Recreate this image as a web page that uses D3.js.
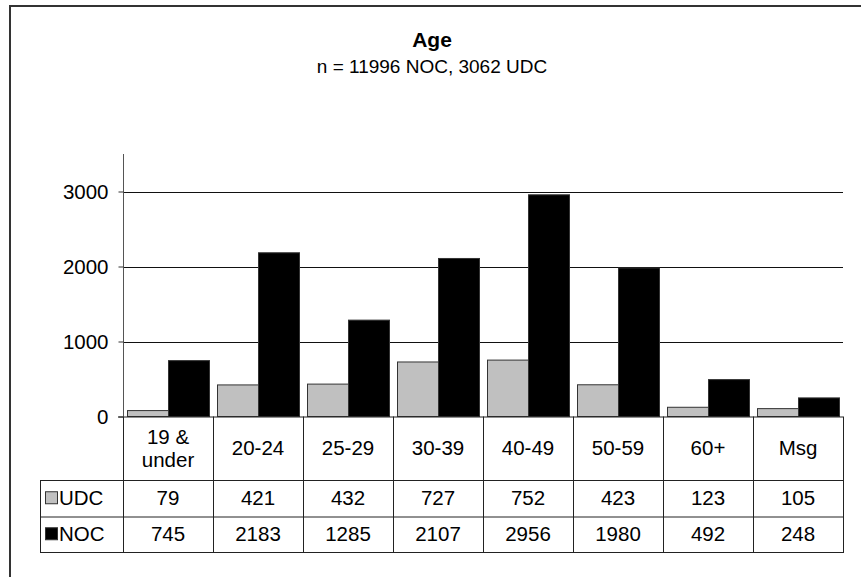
<!DOCTYPE html>
<html>
<head>
<meta charset="utf-8">
<script src="https://cdn.jsdelivr.net/npm/d3@7"></script>
<style>
html,body{margin:0;padding:0;background:#fff;}
svg{display:block;font-family:"Liberation Sans",Arial,sans-serif;}
</style>
</head>
<body>
<svg id="chart" width="861" height="577"></svg>
<script>
const categories = [["19 &","under"],["20-24"],["25-29"],["30-39"],["40-49"],["50-59"],["60+"],["Msg"]];
const seriesNames = ["UDC","NOC"];
const udcValues = [79,421,432,727,752,423,123,105];
const nocValues = [745,2183,1285,2107,2956,1980,492,248];
const yTicks = [0,1000,2000,3000];
const seriesColors = ["#c0c0c0","#000000"];
const title = "Age";
const subtitle = "n = 11996 NOC, 3062 UDC";

const svg = d3.select("#chart");
const catKeys = categories.map(c => c.join(" "));
const plot = {left:123, right:843, top:154, bottom:416.5};
const FS = 20.5;

// outer chart frame
svg.append("path")
  .attr("d","M10,580 L10,6 L870,6")
  .attr("fill","none").attr("stroke","#333").attr("stroke-width",2);

svg.append("text").attr("x",432).attr("y",47).attr("text-anchor","middle")
  .attr("font-size",21).attr("font-weight","bold").text(title);
svg.append("text").attr("x",432).attr("y",73).attr("text-anchor","middle")
  .attr("font-size",19).text(subtitle);

const x0 = d3.scaleBand().domain(catKeys).range([plot.left, plot.right]).padding(0);
const x1 = d3.scaleBand().domain(seriesNames).range([4.5, x0.bandwidth()-3.5]).padding(0);
const y = d3.scaleLinear().domain([0,3500]).range([plot.bottom, plot.top]);

// gridlines
svg.append("g").selectAll("line").data(yTicks.filter(t=>t>0)).join("line")
  .attr("x1",plot.left).attr("x2",plot.right)
  .attr("y1",d=>Math.round(y(d))+0.5).attr("y2",d=>Math.round(y(d))+0.5)
  .attr("stroke","#111").attr("stroke-width",1);

// bars
const series = [udcValues, nocValues];
const g = svg.append("g");
seriesNames.forEach((s,si)=>{
  g.append("g").selectAll("rect").data(series[si]).join("rect")
    .attr("x",(d,i)=>x0(catKeys[i])+x1(s))
    .attr("y",d=>y(d))
    .attr("width",x1.bandwidth())
    .attr("height",d=>plot.bottom-y(d))
    .attr("fill",seriesColors[si])
    .attr("stroke","#333").attr("stroke-width",1);
});

// y axis
const yAxis = d3.axisLeft(y).tickValues(yTicks).tickSize(5).tickPadding(10).tickFormat(d3.format("d"));
const ya = svg.append("g").attr("transform",`translate(${plot.left+0.5},0)`).call(yAxis);
ya.selectAll(".domain").attr("stroke","#555").attr("d",`M0,${plot.bottom}V${plot.top}`);
ya.selectAll(".tick line").attr("stroke","#333");
ya.selectAll(".tick text").attr("font-size",FS).attr("fill","#000").attr("font-family","Liberation Sans, Arial, sans-serif").attr("dy","0.35em");

// x axis baseline
svg.append("line").attr("x1",plot.left-5).attr("x2",plot.right)
  .attr("y1",plot.bottom+0.5).attr("y2",plot.bottom+0.5).attr("stroke","#222");

// data table
const tbl = {left:40, headerBottom:480, row1Bottom:516.5, row2Bottom:552};
const tg = svg.append("g").attr("stroke","#222").attr("stroke-width",1).attr("fill","none");
catKeys.forEach((k,i)=>{
  tg.append("line").attr("x1",x0(k)+0.5).attr("x2",x0(k)+0.5).attr("y1",plot.bottom).attr("y2",tbl.row2Bottom);
});
tg.append("line").attr("x1",plot.right+0.5).attr("x2",plot.right+0.5).attr("y1",plot.bottom).attr("y2",tbl.row2Bottom);
tg.append("line").attr("x1",tbl.left+0.5).attr("x2",tbl.left+0.5).attr("y1",tbl.headerBottom).attr("y2",tbl.row2Bottom);
[tbl.headerBottom, tbl.row1Bottom, tbl.row2Bottom].forEach(yy=>{
  tg.append("line").attr("x1",tbl.left).attr("x2",plot.right+1).attr("y1",yy+0.5).attr("y2",yy+0.5);
});

// header labels
const hdr = svg.append("g").attr("font-size",FS).attr("text-anchor","middle");
categories.forEach((c,i)=>{
  const cx = x0(catKeys[i]) + x0.bandwidth()/2;
  const midY = (plot.bottom + tbl.headerBottom)/2;
  c.forEach((line,li)=>{
    hdr.append("text").attr("x",cx)
      .attr("y", midY + (li - (c.length-1)/2)*23)
      .attr("dy","0.35em").text(line);
  });
});

// row values + legend keys
const rowVals = [udcValues, nocValues];
const rowBounds = [[tbl.headerBottom, tbl.row1Bottom],[tbl.row1Bottom, tbl.row2Bottom]];
rowVals.forEach((vals,ri)=>{
  const [top,bot] = rowBounds[ri];
  const rg = svg.append("g").attr("font-size",FS).attr("text-anchor","middle");
  vals.forEach((v,i)=>{
    rg.append("text").attr("x",x0(catKeys[i])+x0.bandwidth()/2).attr("y",(top+bot)/2).attr("dy","0.35em").text(v);
  });
  svg.append("rect").attr("x",tbl.left+5.5).attr("y",(top+bot)/2-6.5).attr("width",12).attr("height",12)
    .attr("fill",seriesColors[ri]).attr("stroke","#333");
  svg.append("text").attr("x",tbl.left+19).attr("y",(top+bot)/2).attr("dy","0.35em")
    .attr("font-size",FS).text(seriesNames[ri]);
});
</script>
</body>
</html>
